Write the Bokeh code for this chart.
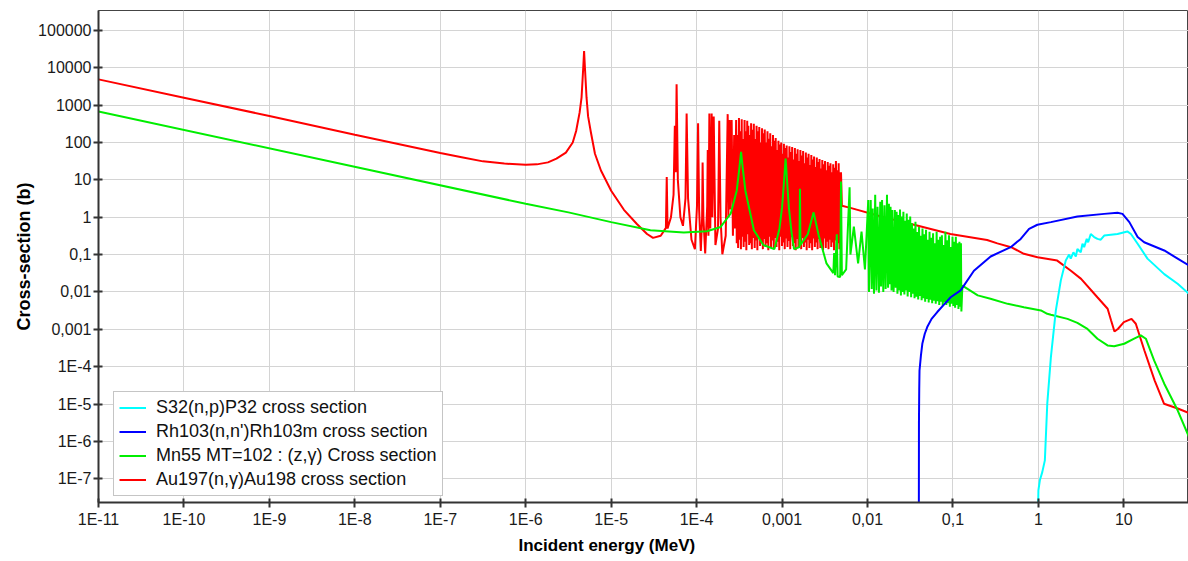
import math
from bokeh.plotting import figure
from bokeh.models import Range1d, FixedTicker, Legend, LegendItem, Title
from bokeh.embed import file_html
from bokeh.resources import INLINE

# ---------------- axis ticks ----------------
x_ticks = [1e-11, 1e-10, 1e-9, 1e-8, 1e-7, 1e-6, 1e-5, 1e-4, 1e-3, 1e-2, 1e-1, 1.0, 10.0]
x_tick_labels = ["1E-11", "1E-10", "1E-9", "1E-8", "1E-7", "1E-6", "1E-5", "1E-4",
                 "0,001", "0,01", "0,1", "1", "10"]
y_ticks = [1e-7, 1e-6, 1e-5, 1e-4, 1e-3, 1e-2, 1e-1, 1.0, 10.0, 100.0, 1000.0, 10000.0, 100000.0]
y_tick_labels = ["1E-7", "1E-6", "1E-5", "1E-4", "0,001", "0,01", "0,1", "1", "10",
                 "100", "1000", "10000", "100000"]

series_names = ["S32(n,p)P32 cross section",
                "Rh103(n,n')Rh103m cross section",
                "Mn55 MT=102 : (z,γ) Cross section",
                "Au197(n,γ)Au198 cross section"]

# ---------------- Au197(n,g) ----------------
au_low_E = [1e-11, 1e-10, 1e-9, 1e-8, 1e-7, 1.78e-7, 3.16e-7, 5.62e-7, 1e-6, 1.35e-6, 1.82e-6,
            2.29e-6, 2.95e-6, 3.55e-6, 3.89e-6, 4.27e-6, 4.50e-6, 4.71e-6, 4.82e-6, 4.93e-6,
            5.15e-6, 5.37e-6, 5.75e-6, 6.46e-6, 7.59e-6, 1e-5, 1.41e-5, 2.0e-5, 2.63e-5,
            3.09e-5, 3.80e-5]
au_low_xs = [4900, 1585, 513, 162, 52.5, 40.5, 31.3, 27.3, 25.4, 26.0, 29.4,
             37, 53.7, 100, 204, 631, 1585, 10000, 28000, 10000,
             1585, 500, 204, 50, 17.8, 5.1, 1.58, 0.66, 0.355,
             0.28, 0.32]

au_res_E_eV = [43.7, 44.7, 45.7, 50.1, 53.7, 55.6, 56.9, 58.3, 60.3, 64.6, 69.2, 74.1, 76.4, 79.4,
               87.1, 95.5, 101, 104, 107, 112, 116, 117.5, 120, 126, 133, 135, 137.5, 141, 144.5,
               150, 153, 158.5, 166, 178, 184, 190.5, 200, 219, 231, 235.5, 243, 248, 257, 266,
               275, 281]
au_res_xs = [0.52, 12, 0.5, 1.0, 4, 280, 16, 3600, 10, 1.0, 0.59, 3.2, 600, 3.2,
             0.25, 0.14, 2.0, 330, 1.6, 0.126, 1, 29, 1, 0.107, 2, 63, 0.32, 600, 0.5,
             600, 1, 500, 0.18, 0.5, 380, 1, 0.102, 0.32, 575, 1, 400, 1.6, 400, 0.32,
             160, 0.5]

au_forest_E_eV = [290, 295, 299, 306, 313, 318, 322, 330, 337, 342,
                  347, 355, 364, 369, 374, 382, 391, 397, 403, 412,
                  421, 427, 434, 443, 453, 460, 467, 478, 489, 496,
                  503, 514, 526, 533, 541, 553, 566, 574, 583, 596,
                  609, 618, 627, 641, 656, 665, 675, 690, 706, 716,
                  727, 743, 760, 771, 783, 800, 818, 830, 842, 861,
                  880, 893, 907, 927, 948, 962, 977, 999, 1021, 1036,
                  1051, 1075, 1099, 1115, 1132, 1157, 1183, 1200, 1219, 1246,
                  1273, 1292, 1312, 1341, 1371, 1391, 1413, 1444, 1476, 1498,
                  1521, 1555, 1589, 1612, 1638, 1674, 1710, 1735, 1763, 1802,
                  1841, 1868, 1898, 1940, 1982, 2011, 2043, 2088, 2133, 2165,
                  2200, 2248, 2297, 2331, 2368, 2420, 2472, 2509, 2550, 2605,
                  2661, 2700, 2744, 2804, 2864, 2906, 2954, 3018, 3083, 3128,
                  3180, 3250, 3318, 3367, 3423, 3497, 3572, 3625, 3684, 3765,
                  3845, 3902, 3966, 4052, 4139, 4200, 4270, 4362, 4455, 4520,
                  4597, 4690, 4790, 4850, 4895]
au_forest_xs = [400, 0.2, 160, 0.15, 450, 0.25, 200, 0.14, 420, 0.3,
                125, 0.16, 400, 0.22, 200, 0.13, 380, 0.35, 280, 0.18,
                160, 0.2, 330, 0.14, 220, 0.28, 316, 0.15, 125, 0.24,
                280, 0.13, 200, 0.3, 260, 0.17, 100, 0.22, 240, 0.14,
                178, 0.26, 224, 0.16, 100, 0.2, 200, 0.13, 126, 0.3,
                178, 0.15, 80, 0.24, 158, 0.14, 112, 0.28, 132, 0.16,
                63, 0.22, 112, 0.13, 89, 0.3, 100, 0.17, 50, 0.21,
                93, 0.14, 71, 0.27, 83, 0.16, 40, 0.23, 79, 0.14,
                56, 0.3, 76, 0.17, 35, 0.2, 71, 0.13, 50, 0.26,
                66, 0.15, 32, 0.22, 63, 0.14, 45, 0.28, 59, 0.16,
                28, 0.21, 54, 0.13, 40, 0.25, 50, 0.15, 25, 0.2,
                46, 0.13, 35, 0.27, 42, 0.16, 22, 0.21, 40, 0.14,
                30, 0.26, 36, 0.15, 20, 0.2, 34, 0.13, 26, 0.27,
                32, 0.15, 18, 0.22, 30, 0.14, 24, 0.25, 28, 0.16,
                16, 0.21, 26, 0.13, 21, 0.24, 32, 0.15, 18, 0.2,
                28, 0.14, 16, 0.22, 16]

au_fast_E = [5.01e-3, 6.31e-3, 1.55e-2, 3.80e-2, 9.33e-2, 0.251, 0.331, 0.479, 0.676, 0.977,
             1.66, 2.40, 3.16, 4.90, 6.46, 7.08, 7.76, 8.51, 10.0, 12.3, 13.8, 17.4, 22.9,
             29.5, 42.7, 57.5]
au_fast_xs = [2.04, 1.78, 1.0, 0.60, 0.355, 0.245, 0.20, 0.158, 0.105, 0.085,
              0.069, 0.037, 0.0224, 0.0072, 0.00355, 0.00174, 0.00087, 0.00102, 0.00155,
              0.0019, 0.00141, 0.00027, 4.3e-5, 1.02e-5, 7.6e-6, 5.75e-6]

# ---------------- Mn55 MT=102 ----------------
mn_low_E = [1e-11, 1e-6, 3.16e-6, 1e-5, 2.88e-5, 7.08e-5, 1.32e-4, 1.91e-4, 2.51e-4, 2.95e-4,
            3.16e-4, 3.31e-4, 3.47e-4, 3.72e-4, 4.68e-4, 6.03e-4, 8.13e-4, 9.33e-4, 1.0e-3,
            1.05e-3, 1.10e-3, 1.15e-3, 1.20e-3, 1.29e-3, 1.38e-3, 1.60e-3, 1.62e-3, 1.64e-3,
            2.0e-3, 2.34e-3, 2.69e-3, 3.31e-3, 3.98e-3, 4.07e-3, 4.17e-3, 4.37e-3, 4.47e-3,
            4.79e-3, 4.90e-3, 5.01e-3, 5.62e-3, 6.17e-3, 6.31e-3, 6.92e-3, 7.76e-3, 8.51e-3,
            9.33e-3]
mn_low_xs = [676, 2.29, 1.35, 0.74, 0.45, 0.39, 0.42, 0.55, 1.26, 5.2,
             20, 56, 20, 5.2, 0.45, 0.18, 0.14, 0.5, 1.86,
             8, 37, 8, 1.86, 0.4, 0.14, 0.16, 5.75, 0.18,
             0.35, 1.35, 0.32, 0.058, 0.032, 0.11, 0.028, 0.35, 0.026,
             0.025, 9, 0.028, 0.04, 6.3, 0.1, 0.56, 0.058, 0.41,
             0.04]

mn_forest_E_keV = [10.2, 10.4, 10.9, 11.2, 11.5, 11.9, 12.3, 12.7, 13.1, 13.6,
                   14.1, 14.4, 14.8, 15.3, 15.8, 16.3, 16.9, 17.4, 17.8, 18.3,
                   18.6, 19.1, 19.5, 20.2, 20.9, 21.4, 21.9, 22.4, 22.9, 23.5,
                   24.0, 24.6, 25.1, 25.7, 26.3, 27.0, 27.6, 28.2, 28.8, 29.5,
                   30.2, 31.0, 31.6, 32.4, 33.1, 34.0, 34.7, 35.5, 36.4, 37.4,
                   38.3, 39.2, 40.1, 41.0, 42.0, 43.0, 44.0, 45.1, 46.2, 47.3,
                   48.4, 49.6, 50.8, 52.0, 53.2, 54.5, 55.8, 57.1, 58.5, 59.9,
                   61.4, 62.9, 64.4, 65.9, 67.5, 69.1, 70.8, 72.5, 74.2, 76.0,
                   77.8, 79.7, 81.6, 83.6, 85.6, 87.7, 89.8, 92.0, 94.2, 96.5,
                   98.8, 101, 104, 106, 108, 111, 114, 116, 119, 122,
                   124, 125.5]
mn_forest_xs = [2.9, 0.01, 2.9, 0.012, 1.7, 0.009, 4.0, 0.011, 1.9, 0.0095,
                2.6, 0.014, 2.9, 0.01, 2.1, 0.012, 4.0, 0.013, 2.3, 0.016,
                1.9, 0.011, 1.55, 0.01, 1.55, 0.013, 1.4, 0.009, 1.15, 0.011,
                1.6, 0.008, 1.05, 0.01, 1.4, 0.0085, 0.8, 0.011, 1.26, 0.0075,
                0.85, 0.01, 1.05, 0.0072, 0.69, 0.009, 0.5, 0.0068, 0.76, 0.0075,
                0.4, 0.0063, 0.56, 0.0078, 0.32, 0.006, 0.5, 0.0068, 0.35, 0.0055,
                0.46, 0.0065, 0.25, 0.0052, 0.41, 0.0062, 0.28, 0.005, 0.37, 0.0058,
                0.2, 0.0048, 0.41, 0.0056, 0.25, 0.0045, 0.3, 0.0055, 0.33, 0.0042,
                0.18, 0.0052, 0.41, 0.0045, 0.24, 0.005, 0.33, 0.004, 0.16, 0.0048,
                0.3, 0.0042, 0.22, 0.0038, 0.3, 0.0045, 0.2, 0.0035, 0.22, 0.004,
                0.2, 0.003]

mn_fast_E = [0.129, 0.195, 0.275, 0.437, 0.676, 1.07, 1.27, 1.40, 2.19, 2.86, 3.75, 4.91,
             6.44, 7.71, 10.1, 13.2, 15.8, 18.1, 22.6, 29.7, 42.6, 57.8]
mn_fast_xs = [0.0148, 0.0081, 0.0066, 0.0048, 0.0039, 0.0032, 0.0026, 0.00245, 0.0019,
              0.00148, 0.00102, 0.00056, 0.00037, 0.00035, 0.00041, 0.00056, 0.00069,
              0.00056, 0.000148, 3.5e-5, 6.8e-6, 1.32e-6]

# ---------------- S32(n,p) ----------------
s32_E = [0.955, 1.0, 1.04, 1.11, 1.19, 1.27, 1.40, 1.60, 1.83, 2.09, 2.29, 2.39, 2.57, 2.74,
         2.86, 3.13, 3.28, 3.43, 3.68, 3.82, 4.10, 4.49, 4.91, 5.37, 5.89, 8.43, 11.0, 12.1,
         14.5, 18.9, 29.7, 42.6, 57.8]
s32_xs = [1e-10, 4.9e-8, 9.1e-8, 1.5e-7, 3.1e-7, 1.02e-5, 1.8e-4, 0.0032, 0.0204, 0.069,
          0.1, 0.078, 0.115, 0.089, 0.141, 0.115, 0.195, 0.158, 0.263, 0.214, 0.355, 0.295,
          0.263, 0.251, 0.324, 0.355, 0.417, 0.355, 0.195, 0.078, 0.030, 0.0166, 0.0089]

# ---------------- Rh103(n,n') ----------------
rh_E = [0.0398, 0.0400, 0.0403, 0.0406, 0.0422, 0.0438, 0.0468, 0.050, 0.0562, 0.0655,
        0.0794, 0.094, 0.123, 0.176, 0.276, 0.474, 0.621, 0.778, 0.973, 1.40, 2.86, 5.89,
        8.43, 9.64, 11.6, 14.5, 17.3, 29.7, 42.6, 57.8]
rh_xs = [1e-10, 3.2e-6, 2.5e-5, 7.9e-5, 2.0e-4, 4.1e-4, 7.6e-4, 1.15e-3, 1.9e-3, 2.9e-3,
         4.7e-3, 7.2e-3, 0.011, 0.037, 0.089, 0.158, 0.263, 0.49, 0.63, 0.74, 1.05, 1.23,
         1.32, 1.23, 0.74, 0.295, 0.214, 0.129, 0.078, 0.051]

# ---------------- assemble ----------------
au_E = (au_low_E + [e * 1e-6 for e in au_res_E_eV] + [e * 1e-6 for e in au_forest_E_eV]
        + au_fast_E)
au_xs = au_low_xs + au_res_xs + au_forest_xs + au_fast_xs
mn_E = mn_low_E + [e * 1e-3 for e in mn_forest_E_keV] + mn_fast_E
mn_xs = mn_low_xs + mn_forest_xs + mn_fast_xs

FONT = "Liberation Sans"

p = figure(width=1188, height=561, x_axis_type="log", y_axis_type="log",
           x_range=Range1d(1e-11, 57.1), y_range=Range1d(2.31e-8, 3.42e5),
           output_backend="svg", toolbar_location=None,
           min_border_left=98, min_border_right=0, min_border_top=10, min_border_bottom=59)
p.background_fill_color = "white"
p.border_fill_color = "white"
p.outline_line_color = "#444444"
p.outline_line_width = 1

for ax, ticks, labels in ((p.xaxis, x_ticks, x_tick_labels), (p.yaxis, y_ticks, y_tick_labels)):
    ax.ticker = FixedTicker(ticks=ticks)
    ax.major_label_overrides = dict(zip(ticks, labels))
    ax.major_label_text_font = FONT
    ax.major_label_text_font_size = "16px"
    ax.major_label_text_color = "#1a1a1a"
    ax.axis_line_color = "#333333"
    ax.axis_line_width = 2
    ax.major_tick_line_color = "#333333"
    ax.major_tick_line_width = 2
    ax.major_tick_in = 4
    ax.major_tick_out = 5
    ax.minor_tick_line_color = None
p.xaxis.major_label_standoff = 3
p.yaxis.major_label_standoff = 2

p.xgrid.ticker = FixedTicker(ticks=x_ticks)
p.ygrid.ticker = FixedTicker(ticks=y_ticks)
for g in (p.xgrid, p.ygrid):
    g.grid_line_color = "#d4d4d4"
    g.grid_line_width = 1

r_au = p.line(au_E, au_xs, line_color="#ff0000", line_width=2)
r_mn = p.line(mn_E, mn_xs, line_color="#00ee00", line_width=2)
r_rh = p.line(rh_E, rh_xs, line_color="#0000ff", line_width=2)
r_s = p.line(s32_E, s32_xs, line_color="#00ffff", line_width=2)

legend = Legend(items=[LegendItem(label=series_names[0], renderers=[r_s]),
                       LegendItem(label=series_names[1], renderers=[r_rh]),
                       LegendItem(label=series_names[2], renderers=[r_mn]),
                       LegendItem(label=series_names[3], renderers=[r_au])],
                location=(15, 6))
legend.label_text_font = FONT
legend.label_text_font_size = "18px"
legend.label_text_color = "#111111"
legend.glyph_width = 27
legend.glyph_height = 21
legend.label_height = 21
legend.label_standoff = 10
legend.spacing = 3
legend.padding = 5
legend.margin = 0
legend.border_line_color = "#8c8c8c"
legend.border_line_width = 1
legend.background_fill_alpha = 1.0
p.add_layout(legend)

p.add_layout(Title(text="Incident energy (MeV)", align="left", offset=420, standoff=6,
                   text_font=FONT, text_font_style="bold", text_font_size="17px",
                   text_color="#000000"), "below")
p.add_layout(Title(text="Cross-section (b)", align="center", offset=-23, standoff=4,
                   text_font=FONT, text_font_style="bold", text_font_size="18px",
                   text_color="#000000"), "left")

open("out.html", "w").write(file_html(p, INLINE))
